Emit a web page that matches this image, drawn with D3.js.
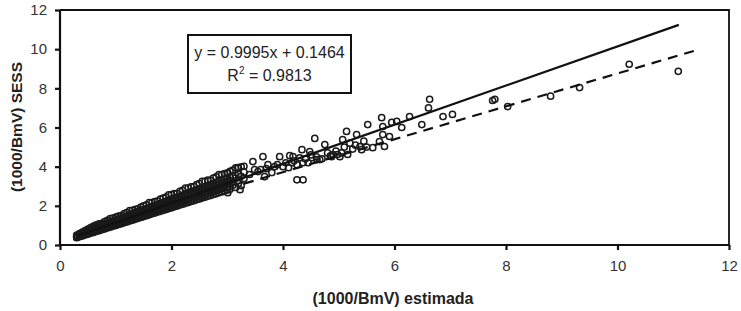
<!DOCTYPE html>
<html><head><meta charset="utf-8">
<script src="https://cdn.jsdelivr.net/npm/d3@7"></script>
<style>body{margin:0;background:#fff}svg{display:block}</style>
</head><body>
<svg id="c" width="741" height="311"></svg>
<script>
// ---- data ----
// dense band of observations (x = estimada), stacked rows of SESS values
const bandX = [0.30,0.35,0.40,0.45,0.50,0.55,0.60,0.65,0.70,0.75,0.80,0.85,0.90,0.95,1.00,1.05,1.10,1.15,1.20,1.25,
1.30,1.35,1.40,1.45,1.50,1.55,1.60,1.65,1.70,1.75,1.80,1.85,1.90,1.95,2.00,2.05,2.10,2.15,2.20,2.25,
2.30,2.35,2.40,2.45,2.50,2.55,2.60,2.65,2.70,2.75,2.80,2.85,2.90,2.95,3.00,3.05,3.10,3.15,3.20,3.25,3.30];
const bandLow = [.37,.42,.46,.51,.55,.60,.64,.69,.73,.78,.82,.87,.91,.96,1.00,1.05,1.09,1.14,1.18,1.23,
1.27,1.32,1.36,1.41,1.45,1.50,1.54,1.59,1.63,1.68,1.72,1.77,1.81,1.86,1.90,1.95,1.99,2.04,2.08,2.13,
2.17,2.22,2.26,2.31,2.35,2.40,2.44,2.49,2.53,2.58,2.62,2.67,2.71,2.76,2.80,2.85,null,2.94,null,3.03,null];
const bandA = [.39,.44,.49,.54,.59,.65,.70,.74,.79,.84,.88,.93,.98,1.03,1.07,1.12,1.17,1.21,1.26,1.31,
1.35,1.40,1.45,1.50,1.54,1.59,1.64,1.68,1.73,1.78,1.83,1.87,1.92,1.97,2.01,2.06,2.11,2.15,2.20,2.25,
2.30,2.34,2.39,2.44,2.48,2.53,2.58,2.63,2.67,2.72,2.77,2.81,2.86,2.91,2.95,null,3.05,null,3.14,null,null];
const bandMidLow = [.41,.47,.53,.58,.64,.69,.75,.80,.85,.90,.94,.99,1.04,1.09,1.14,1.19,1.24,1.29,1.34,1.39,
1.43,1.48,1.53,1.58,1.63,1.68,1.73,1.78,1.83,1.88,1.92,1.97,2.02,2.07,2.12,2.17,2.22,2.27,2.32,2.36,
2.41,2.46,2.51,2.56,2.61,2.66,2.71,2.76,2.81,2.85,2.90,2.95,3.00,3.05,3.10,3.15,3.20,null,3.29,null,3.39];
const bandB = [.44,.50,.56,.62,.68,.75,.81,.86,.91,.96,1.01,1.06,1.11,1.16,1.21,1.26,1.32,1.37,1.42,1.47,
1.52,1.57,1.62,1.67,1.72,1.77,1.83,1.88,1.93,1.98,2.03,2.08,2.13,2.18,2.23,2.28,2.34,2.39,2.44,2.49,
2.54,2.59,2.64,2.69,2.74,2.79,2.85,2.90,2.95,3.00,3.05,3.10,3.15,3.20,3.25,3.30,null,3.41,null,3.51,null];
const bandMidHigh = [.46,.52,.59,.66,.72,.79,.86,.91,.96,1.02,1.07,1.12,1.18,1.23,1.28,1.33,1.39,1.44,1.49,1.55,
1.60,1.65,1.70,1.76,1.81,1.86,1.92,1.97,2.02,2.08,2.13,2.18,2.23,2.29,2.34,2.39,2.45,2.50,2.55,2.60,
2.66,2.71,2.76,2.82,2.87,2.92,2.97,3.03,3.08,3.13,3.19,3.24,3.29,3.35,3.40,3.45,3.50,3.56,3.61,null,3.72];
const bandHigh = [.50,.58,.66,.74,.81,.89,.97,1.03,1.08,1.10,1.20,1.26,1.35,1.37,1.43,1.48,1.50,1.60,1.65,1.76,
1.77,1.82,1.84,1.94,2.00,2.05,2.16,2.17,2.22,2.24,2.34,2.40,2.45,2.56,2.57,2.62,2.63,2.74,2.79,2.90,
2.91,2.97,2.98,3.08,3.14,3.25,3.25,3.31,3.30,3.42,3.48,3.60,3.59,3.65,3.66,3.76,3.82,3.94,3.93,3.99,4.02];
// scattered observations
const otherX = [3.01,3.23,3.05,3.01,3.19,
3.40,3.46,3.49,3.55,3.60,3.64,3.67,3.70,3.73,3.80,3.85,3.90,3.94,4.00,4.05,4.10,4.12,4.16,4.18,4.20,
4.25,4.25,4.30,4.34,4.36,4.36,4.40,4.45,4.48,4.50,4.52,4.57,4.60,4.61,4.66,4.70,4.75,4.80,4.85,4.87,
4.90,4.95,4.98,5.02,5.05,5.07,5.10,5.14,5.16,5.20,5.25,5.30,5.32,5.38,5.41,5.45,5.50,5.52,5.61,5.73,
5.77,5.79,5.79,5.82,5.91,5.95,6.04,6.13,6.27,6.49,6.61,6.63,6.87,7.04,7.76,7.80,8.03,8.80,9.32,10.21,11.09];
const otherY = [2.67,2.82,2.97,3.69,3.95,
3.60,4.26,3.85,3.75,3.85,4.51,3.49,3.90,4.10,3.70,4.00,4.10,4.51,4.00,4.20,3.95,4.56,4.20,4.51,4.30,
4.10,3.33,4.45,4.87,3.33,4.20,4.40,4.20,4.77,4.60,4.46,5.44,4.50,4.36,4.36,4.40,5.13,4.70,4.55,4.51,
4.62,4.80,4.62,4.51,4.70,5.38,5.00,5.80,4.62,5.20,4.90,5.10,5.64,5.03,4.87,5.30,5.00,6.15,4.97,5.28,
6.50,5.64,6.05,5.03,5.54,6.26,6.31,6.00,6.56,6.15,7.00,7.44,6.56,6.67,7.38,7.44,7.07,7.60,8.04,9.23,8.87];
// fitted trend (legend equation) and lower dashed line
const trendSlope = 0.9995, trendIntercept = 0.1464, trendR2 = 0.9813;
const trendRange = [0.3, 11.1];
const dashSlope = 0.84, dashIntercept = 0.36;
const dashRange = [3.3, 11.4];
const xTicks = [0, 2, 4, 6, 8, 10, 12];
const yTicks = [0, 2, 4, 6, 8, 10, 12];

// ---- chart ----
const svg = d3.select("#c");
const W = 741, H = 311;
const m = {l: 60, r: W - 729, t: 10, b: H - 245};
const x = d3.scaleLinear().domain([0, 12]).range([m.l, W - m.r]);
const y = d3.scaleLinear().domain([0, 12]).range([H - m.b, m.t]);
const font = "'Liberation Sans', Arial, sans-serif";

// frame top & right
svg.append("path")
  .attr("d", `M${x(0)},${y(12)}H${x(12)}V${y(0)}`)
  .attr("fill", "none").attr("stroke", "#111").attr("stroke-width", 1.8);

// points
const pts = [];
[bandLow, bandA, bandMidLow, bandB, bandMidHigh, bandHigh].forEach(row =>
  bandX.forEach((v, i) => { if (row[i] != null) pts.push([v, row[i]]); }));
otherX.forEach((v, i) => { if (otherY[i] != null) pts.push([v, otherY[i]]); });
svg.append("g").selectAll("circle").data(pts).join("circle")
  .attr("cx", d => x(d[0])).attr("cy", d => y(d[1])).attr("r", 3.1)
  .attr("fill", "none").attr("stroke", "#1a1a1a").attr("stroke-width", 1.5);

// lines
const line = d3.line().x(d => x(d[0])).y(d => y(d[1]));
svg.append("path")
  .attr("d", line(trendRange.map(v => [v, trendSlope * v + trendIntercept])))
  .attr("stroke", "#111").attr("stroke-width", 2.2).attr("fill", "none");
svg.append("path")
  .attr("d", line(dashRange.map(v => [v, dashSlope * v + dashIntercept])))
  .attr("stroke", "#111").attr("stroke-width", 2.2).attr("fill", "none")
  .attr("stroke-dasharray", "10,7");

// axes
const gx = svg.append("g").attr("transform", `translate(0,${y(0)})`)
  .call(d3.axisBottom(x).tickValues(xTicks).tickSize(5).tickPadding(10).tickFormat(d3.format("d")));
const gy = svg.append("g").attr("transform", `translate(${x(0)},0)`)
  .call(d3.axisLeft(y).tickValues(yTicks).tickSize(5).tickPadding(8).tickFormat(d3.format("d")));
[gx, gy].forEach(g => {
  g.select(".domain").attr("stroke", "#111").attr("stroke-width", 2.2);
  g.selectAll(".tick line").attr("stroke", "#111").attr("stroke-width", 2.2);
  g.selectAll(".tick text").attr("fill", "#333").style("font", `15px ${font}`);
});
gx.select(".domain").attr("d", `M${x(0)},0H${x(12)}`);
gy.select(".domain").attr("d", `M0,${y(0)}V${y(12)}`);

// axis titles
svg.append("text").attr("x", 393).attr("y", 304).attr("text-anchor", "middle")
  .attr("fill", "#222").style("font", `bold 16px ${font}`).text("(1000/BmV) estimada");
svg.append("text").attr("transform", "translate(22,127) rotate(-90)").attr("text-anchor", "middle")
  .attr("fill", "#222").style("font", `bold 15.5px ${font}`).text("(1000/BmV) SESS");

// legend box
svg.append("rect").attr("x", 188).attr("y", 35).attr("width", 163).attr("height", 58)
  .attr("fill", "#fff").attr("stroke", "#111").attr("stroke-width", 2);
svg.append("text").attr("x", 269.5).attr("y", 58).attr("text-anchor", "middle")
  .attr("fill", "#222").style("font", `16px ${font}`)
  .text(`y = ${trendSlope}x + ${trendIntercept}`);
const t2 = svg.append("text").attr("x", 269.5).attr("y", 81).attr("text-anchor", "middle")
  .attr("fill", "#222").style("font", `16px ${font}`);
t2.append("tspan").text("R");
t2.append("tspan").attr("dy", -7).style("font-size", "10px").text("2");
t2.append("tspan").attr("dy", 7).text(` = ${trendR2}`);
</script>
</body></html>
